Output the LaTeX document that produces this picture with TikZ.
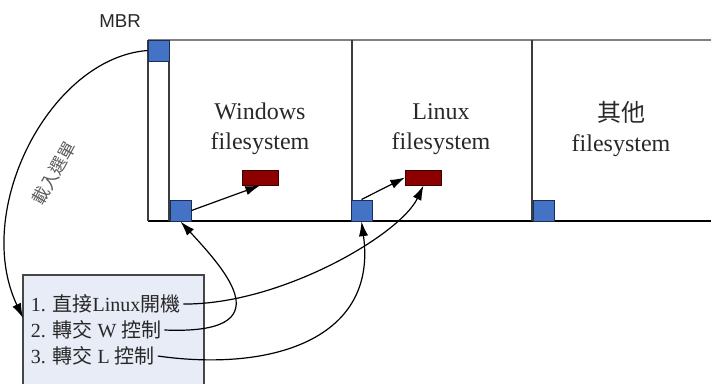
\documentclass[tikz,border=0pt]{standalone}
\usepackage{fontspec}
\setmainfont{Liberation Serif}
\newfontfamily\cjk{Noto Sans CJK TC}
\newfontfamily\mbrfont{Liberation Sans}
\usetikzlibrary{arrows.meta}
\usepackage{xcolor}
\definecolor{bootblue}{RGB}{68,114,196}
\definecolor{bootedge}{RGB}{25,45,85}
\definecolor{kernred}{RGB}{140,0,0}
\definecolor{kernedge}{RGB}{60,0,0}
\definecolor{menufill}{RGB}{232,236,246}
\definecolor{diskgray}{RGB}{128,128,128}

\begin{document}
\begin{tikzpicture}[x=0.75pt,y=0.75pt,yscale=-1,xscale=1,
  bootsq/.style={draw=bootedge,fill=bootblue,line width=0.75,minimum width=15.75pt,minimum height=15.75pt,inner sep=0pt},
  kernbox/.style={draw=kernedge,fill=kernred,line width=0.75,minimum width=27pt,minimum height=11.25pt,inner sep=0pt},
  fstext/.style={align=center,inner sep=0pt,font=\fontsize{18}{22.5}\selectfont,text={rgb, 255:red, 40; green, 40; blue, 40 }},
  menutext/.style={anchor=west,inner sep=2pt,font=\fontsize{15}{18}\selectfont,text={rgb, 255:red, 40; green, 40; blue, 40 }},
  arr/.style={-{Latex[length=11pt,width=7pt]},line width=0.9}]
\useasboundingbox (0,0) rectangle (711,383);

%Shape: Disk strip
\draw [color=diskgray,line width=1.5] (148,40) -- (711,40) ;
\draw [line width=1.1] (148,221) -- (711,221) ;
\draw [color={rgb, 255:red, 60; green, 60; blue, 60 },line width=1.1] (148,40) -- (148,221) ;
\draw [color={rgb, 255:red, 60; green, 60; blue, 60 },line width=1.1] (169,40) -- (169,221) ;
\draw [color={rgb, 255:red, 60; green, 60; blue, 60 },line width=1.1] (352,40) -- (352,221) ;
\draw [color={rgb, 255:red, 60; green, 60; blue, 60 },line width=1.1] (532,40) -- (532,221) ;

%Shape: Boot blocks
\node (mbr) [bootsq] at (158.5,50.5) {} ;
\node (winboot) [bootsq] at (180.5,210.5) {} ;
\node (linboot) [bootsq] at (361.5,210.5) {} ;
\node (othboot) [bootsq] at (543.5,210.5) {} ;

%Shape: Kernels
\node (winkern) [kernbox] at (260,177.5) {} ;
\node (linkern) [kernbox] at (423.5,177.5) {} ;

% Text Node
\node (mbrlabel) [inner sep=0pt,font=\mbrfont\fontsize{14}{16}\selectfont,text={rgb, 255:red, 40; green, 40; blue, 40 }] at (120,21) {MBR} ;
% Text Node
\node (winfs) [fstext] at (260,129) {Windows\\filesystem} ;
% Text Node
\node (linfs) [fstext] at (441,129) {Linux\\filesystem} ;
% Text Node
\node (othfs) [fstext] at (621,129) {{\cjk 其他}\\filesystem} ;

%Shape: Boot menu
\draw [color={rgb, 255:red, 70; green, 70; blue, 70 },fill=menufill,line width=1.1] (23,275) rectangle (204,392) ;
\coordinate (menuin) at (23,318) ;
% Text Node
\node (item1) [menutext] at (28,304) {1. {\cjk 直接}Linux{\cjk 開機}} ;
% Text Node
\node (item2) [menutext] at (28,330) {2. {\cjk 轉交} W {\cjk 控制}} ;
% Text Node
\node (item3) [menutext] at (28,356) {3. {\cjk 轉交} L {\cjk 控制}} ;

%Curves
\draw [arr] (mbr.west) .. controls (50,58) and (-28,210) .. (menuin) ;
\draw [arr] (item1.east) .. controls (280,305) and (400,235) .. (linkern.south) ;
\draw [arr] (item2.east) .. controls (285,335) and (225,270) .. (winboot.south) ;
\draw [arr] (item3.east) .. controls (270,372) and (378,340) .. (linboot.south) ;
%Straight Lines
\draw [arr] (winboot.east) -- (winkern.south) ;
\draw [arr] (linboot.north) -- (linkern.west) ;

% Text Node
\node (loadlabel) [rotate=61,inner sep=0pt,font=\cjk\fontsize{13}{15}\selectfont,text={rgb, 255:red, 90; green, 90; blue, 90 }] at (54,173) {載入選單} ;

\end{tikzpicture}
\end{document}
